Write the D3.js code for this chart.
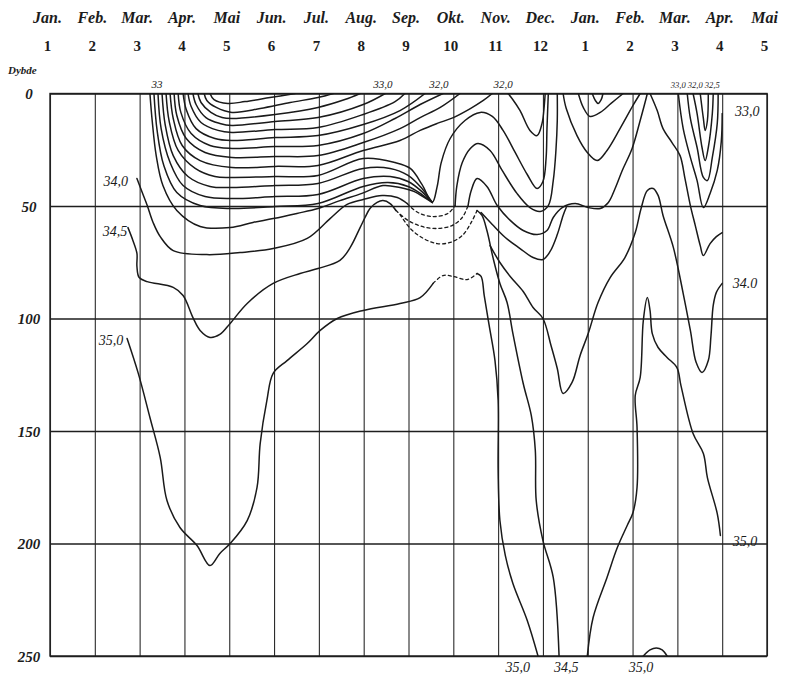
<!DOCTYPE html>
<html>
<head>
<meta charset="utf-8">
<script src="https://cdn.jsdelivr.net/npm/d3@7"></script>
<style>
  body { margin: 0; background: #fff; }
  svg { display: block; }
  text { font-family: "Liberation Serif", "DejaVu Serif", serif; font-style: italic; fill: #1c1c1c; }
</style>
</head>
<body>
<svg id="chart"></svg>
<script>
// months along the top (two years, Jan..Mai)
const monthNames = ["Jan.", "Feb.", "Mar.", "Apr.", "Mai", "Jun.", "Jul.", "Aug.", "Sep.", "Okt.", "Nov.", "Dec.", "Jan.", "Feb.", "Mar.", "Apr.", "Mai"]
const monthNumbers = ["1", "2", "3", "4", "5", "6", "7", "8", "9", "10", "11", "12", "1", "2", "3", "4", "5"]
const depthTicks = [0, 50, 100, 150, 200, 250]

// isohalines as [month index, depth m]
const fan0 = [[3.57,0],[3.66,2.7],[3.97,4.4],[4.35,3.6],[4.91,1.8],[5.47,0]]
const fan1 = [[3.44,0],[3.50,3.1],[3.71,6.2],[4.06,8.4],[4.69,6.7],[5.36,4],[5.98,1.8],[6.32,0]]
const fan2 = [[3.30,0],[3.37,4],[3.59,8.4],[3.84,10.7],[4.06,11.1],[5.02,9.3],[5.98,6.2],[6.58,2.7],[6.92,0]]
const fan3 = [[3.19,0],[3.26,4.9],[3.48,10.7],[3.79,13.3],[4.06,14.2],[5.02,12.4],[5.98,10.7],[6.99,4.9],[7.48,0]]
const fan4 = [[3.08,0],[3.15,5.8],[3.37,12.9],[3.75,16.4],[4.06,17.3],[5.02,16],[5.98,15.1],[6.99,9.3],[7.70,3.6],[7.92,0]]
const fan5 = [[2.97,0],[3.04,7.1],[3.26,15.6],[3.68,20],[4.06,20.9],[5.02,19.6],[5.98,18.7],[6.99,13.8],[7.81,7.6],[8.37,0]]
const fan6 = [[2.86,0],[2.92,8.4],[3.15,17.8],[3.57,23.1],[4.06,24.4],[5.02,23.6],[5.98,23.1],[6.99,17.8],[7.70,11.1],[8.26,4.9],[8.77,0]]
const fan7 = [[2.77,0],[2.83,9.8],[3.04,20],[3.46,26.2],[4.06,28.4],[5.02,28],[5.98,27.6],[6.99,21.8],[7.81,15.6],[8.26,10.7],[8.71,6.2],[9.15,0]]
const fan8 = [[2.68,0],[2.75,11.1],[2.95,23.1],[3.35,29.8],[4.06,32.9],[5.02,32.4],[5.98,32],[6.99,25.3],[7.81,20.9],[8.26,16.4],[8.64,13.3],[9.0,10.7],[9.38,6.7],[9.67,3.1],[9.87,0]]
const fan9 = [[2.59,0],[2.66,12.4],[2.86,25.3],[3.24,33.3],[3.68,36.9],[4.06,37.3],[5.02,36.9],[5.98,36.4],[6.99,28.9],[7.70,30.7],[8.04,33.3],[8.30,40.4],[8.53,48.4],
  [8.64,41.3],[8.73,30.7],[8.93,20],[9.26,12],[9.60,8.4],[9.87,10.2],[10.11,16.4],[10.38,26.2],[10.65,36],[10.87,42.2],[11.0,39.1],[11.07,28.9],[11.09,15.6],[11.12,0]]
const fan10 = [[2.50,0],[2.57,13.8],[2.75,27.6],[3.08,36.9],[3.57,41.3],[4.06,41.8],[5.02,40.9],[5.98,40],[6.99,33.3],[7.59,33.3],[7.99,36.4],[8.30,42.2],[8.53,48.4]]
const fan11 = [[2.41,0],[2.48,15.6],[2.68,30.7],[2.97,40.9],[3.46,45.8],[4.06,46.7],[5.02,45.8],[5.98,44.9],[6.99,37.8],[7.59,36.9],[7.99,39.1],[8.30,43.6],[8.53,48.4]]
const fan12 = [[2.32,0],[2.39,16.4],[2.54,32],[2.83,44],[3.35,49.8],[4.06,51.1],[5.02,50.2],[5.98,48.9],[6.99,41.3],[7.54,39.6],[7.99,41.3],[8.30,44.9],[8.53,48.4]]
const fan13 = [[2.23,0],[2.28,12],[2.37,27.6],[2.52,40.9],[2.83,52],[3.35,59.1],[4.02,59.6],[4.53,57.3],[4.98,55.6],[5.51,53.3],[5.98,51.1],[6.47,47.6],[6.96,44.4],[7.43,40.9],[7.81,41.8],[8.13,43.6],[8.35,46.2],[8.53,48.4]]

const iso340Left = [[1.94,37.8],[2.05,43.6],[2.17,49.8],[2.30,57.3],[2.46,63.6],[2.75,69.8],[3.50,71.6],[4.24,70.7],[4.98,68.9],[5.74,64.4],[6.25,55.6],[6.63,49.3],[6.99,47.1],[7.41,45.3],[7.75,46.2],[7.97,48.9]]
const arc1 = [[7.97,48.9],[8.21,52.9],[8.55,54.7],[8.88,53.3],[9.04,49.8]]
const peak2 = [[9.04,49.8],[9.08,40.9],[9.20,30.7],[9.38,24.4],[9.55,22.2],[9.82,25.3],[10.09,34.2],[10.42,44.4],[10.71,50.7],[10.94,52.4],[11.12,49.8],[11.23,38.7],[11.29,25.3],[11.32,12],[11.32,0]]

const iso345Left = [[1.74,59.6],[1.85,65.3],[1.94,71.1],[1.94,76.9],[1.99,81.8],[2.17,83.6],[2.75,86.2],[2.97,89.8],[3.19,99.6],[3.35,105.3],[3.57,108.4],[3.79,107.1],[4.02,102.2],[4.40,93.3],[4.98,84.4],[5.58,80],[5.98,77.8],[6.47,74.2],[6.70,68.4],[6.92,59.6],[7.03,55.1],[7.14,51.1],[7.30,48.4],[7.43,47.6],[7.59,48.9],[7.72,52]]
const arc2 = [[7.72,52],[7.99,56.4],[8.30,59.1],[8.64,60],[8.97,58.7],[9.20,55.1],[9.33,49.8]]
const peak3 = [[9.33,49.8],[9.40,43.1],[9.53,37.8],[9.75,41.3],[9.98,49.8],[10.27,56.4],[10.56,60.9],[10.87,62.7],[11.09,60.9],[11.23,55.1],[11.43,50.7],[11.72,48.9],[12.01,50.7],[12.28,51.1],[12.46,48.4],[12.61,42.2],[12.77,34.2],[12.99,24.4],[13.17,12],[13.29,3.1],[13.33,0]]
const arc3 = [[7.81,53.8],[8.04,60],[8.33,64.4],[8.64,66.7],[8.93,66.2],[9.20,63.1],[9.40,57.3],[9.53,52]]
const iso345Right = [[9.53,52],[9.64,54.2],[9.75,60.9],[9.89,73.3],[10.04,84.4],[10.20,92.9],[10.33,106.7],[10.56,128.9],[10.74,143.1],[10.83,158.7],[10.85,180.9],[11.0,198.7],[11.23,215.1],[11.36,250]]
const vee258 = [[9.62,52.9],[9.87,58.2],[10.16,64],[10.49,68.9],[10.78,72.9],[11.0,73.8],[11.16,70.2],[11.32,62.7],[11.45,54.2],[11.52,50.7]]
const iso340Right = [[9.82,67.6],[10.04,75.1],[10.27,81.3],[10.56,88],[10.78,95.1],[11.0,100],[11.18,112],[11.32,122.2],[11.45,133.3],[11.65,128.4],[11.83,116.4],[12.01,106.7],[12.23,92.9],[12.5,81.8],[12.83,72.9],[13.06,61.8],[13.19,51.1],[13.33,43.1],[13.46,42.2],[13.57,45.3],[13.68,54.2],[13.91,68.4],[14.13,88.9],[14.29,105.3],[14.42,119.6],[14.55,124],[14.69,118.7],[14.75,107.6],[14.80,94.2],[14.87,88.4],[15.0,84.4]]

const iso350Left = [[1.72,108.9],[1.97,124.4],[2.23,144],[2.46,161.8],[2.61,180.9],[2.90,192.9],[3.28,200.9],[3.57,209.8],[3.79,204.4],[4.02,200],[4.40,189.8],[4.62,175.1],[4.69,155.6],[4.84,136.4],[4.98,124.4],[5.29,118.7],[5.74,111.1],[6.03,105.3],[6.41,100],[6.99,96.4],[7.81,93.3],[8.26,90.7],[8.55,84.4]]
const arc350 = [[8.55,84.4],[8.77,80.9],[9.0,81.3],[9.31,82.7],[9.53,80]]
const iso350Mid = [[9.53,80],[9.62,81.3],[9.69,89.8],[9.80,103.1],[9.93,118.7],[10.0,136.4],[10.0,167.6],[10.04,189.8],[10.16,205.3],[10.33,217.8],[10.65,234.2],[10.89,250]]
const iso350Dome = [[11.99,250],[12.12,232.9],[12.43,215.1],[12.66,201.8],[12.88,192],[13.01,186.2],[13.10,175.1],[13.10,148.4],[13.06,134.2],[13.17,126.2],[13.24,100.9],[13.33,90.7],[13.39,96.4],[13.44,106.7],[13.57,112.9],[13.77,117.3],[13.99,121.8],[14.08,129.8],[14.35,151.1],[14.58,160],[14.67,170.7],[14.89,186.7],[14.96,196.4]]
const bottomBump = [[13.24,250],[13.39,247.3],[13.53,246.4],[13.66,247.3],[13.77,250]]

const topVee = [[10.22,0],[10.31,2.2],[10.49,7.6],[10.71,16.4],[10.87,18.7],[10.98,13.3],[11.03,5.3],[11.05,0]]
const vee158 = [[11.45,0],[11.52,6.7],[11.76,18.7],[11.99,26.2],[12.21,29.8],[12.43,25.3],[12.72,15.6],[13.01,5.3],[13.17,0]]
const cupJan = [[11.79,0],[11.90,6.2],[12.05,10.2],[12.28,8.4],[12.52,4.4],[12.79,0]]
const cupJanSmall = [[12.10,0],[12.17,3.1],[12.23,4.4],[12.30,2.7],[12.34,0]]
const vee255 = [[13.39,0],[13.55,7.6],[13.68,15.6],[13.88,21.8],[14.06,27.6],[14.17,37.8],[14.29,49.8],[14.40,58.7],[14.51,67.6],[14.58,72],[14.73,66.7],[14.87,63.6],[15.0,61.8]]
const vee207 = [[14.02,0],[14.13,15.6],[14.29,28.4],[14.44,38.7],[14.58,50.7],[14.73,44.4],[14.89,34.2],[14.98,21.3],[15.0,8.9]]
const cup180 = [[14.22,0],[14.29,11.1],[14.44,24],[14.58,37.3],[14.67,38.7],[14.78,28.4],[14.89,13.3],[14.91,0]]
const cup160 = [[14.35,0],[14.44,8.9],[14.55,24],[14.62,29.8],[14.69,24],[14.78,8.9],[14.80,0]]
const cup130 = [[14.51,0],[14.58,11.1],[14.62,16.4],[14.67,12],[14.69,0]]

const solidLines = [fan0, fan1, fan2, fan3, fan4, fan5, fan6, fan7, fan8, fan9, fan10, fan11, fan12, fan13,
  iso340Left, peak2, iso345Left, peak3, iso345Right, vee258, iso340Right,
  iso350Left, iso350Mid, iso350Dome, bottomBump,
  topVee, vee158, cupJan, cupJanSmall, vee255, vee207, cup180, cup160, cup130]
const dashedLines = [arc1, arc2, arc3, arc350]

// hand-written values beside the curves: [text, month, depth]
const sideLabels = [["34,0", 1.47, 41], ["34,5", 1.45, 63.3], ["35,0", 1.36, 111.8],
  ["33,0", 15.56, 10], ["34.0", 15.51, 86.4], ["35,0", 15.51, 201],
  ["35,0", 10.44, 257], ["34,5", 11.52, 257], ["35,0", 13.19, 257]]
const surfaceLabels = [["33", 2.39, -2.4], ["33,0", 7.43, -2.4], ["32,0", 8.68, -2.4], ["32,0", 10.11, -2.4]]
const surfaceSmall = [["33,0 32,0 32,5", 14.4, -2.4]]

const width = 798
const height = 675

const svg = d3.select("#chart").attr("width", width).attr("height", height)
svg.append("rect").attr("width", width).attr("height", height).attr("fill", "#fff")

const monthIdx = monthNames.map((_, i) => i)
const x = d3.scaleLinear().domain([0, 16]).range([50, 767])
const y = d3.scaleLinear().domain([0, 250]).range([93.5, 656])

// grid
svg.append("g")
    .attr("transform", `translate(0,${y(0)})`)
    .call(d3.axisTop(x).tickValues(monthIdx).tickSize(-(y(250) - y(0))).tickFormat(""))
    .call(g => g.select(".domain").remove())
    .selectAll("line").attr("stroke", "#2a2a2a").attr("stroke-width", 1.1)

svg.append("g")
    .attr("transform", `translate(${x(0)},0)`)
    .call(d3.axisLeft(y).tickValues(depthTicks).tickSize(-(x(16) - x(0))).tickFormat(""))
    .call(g => g.select(".domain").remove())
    .selectAll("line").attr("stroke", "#1e1e1e").attr("stroke-width", 1.4)

svg.append("rect")
    .attr("x", x(0)).attr("y", y(0))
    .attr("width", x(16) - x(0)).attr("height", y(250) - y(0))
    .attr("fill", "none").attr("stroke", "#1e1e1e").attr("stroke-width", 1.4)

// month labels
const monthAxis = svg.append("g")
    .attr("transform", "translate(0,23)")
    .call(d3.axisTop(x).tickValues(monthIdx).tickSize(0).tickPadding(0).tickFormat(i => monthNames[i]))
monthAxis.select(".domain").remove()
monthAxis.selectAll("text")
    .attr("font-family", null).attr("font-size", 16).attr("dx", -3).attr("font-weight", "bold")

const numberAxis = svg.append("g")
    .attr("transform", "translate(0,51)")
    .call(d3.axisTop(x).tickValues(monthIdx).tickSize(0).tickPadding(0).tickFormat(i => monthNumbers[i]))
numberAxis.select(".domain").remove()
numberAxis.selectAll("text")
    .attr("font-family", null).attr("font-size", 15).attr("dx", -3).attr("font-weight", "bold")
    .style("font-style", "normal")

// depth labels
const depthAxis = svg.append("g")
    .attr("transform", `translate(${x(0)},0)`)
    .call(d3.axisLeft(y).tickValues(depthTicks).tickSize(0).tickPadding(0))
depthAxis.select(".domain").remove()
depthAxis.selectAll("text")
    .attr("font-family", null).attr("font-size", 15).attr("font-weight", "bold")
    .attr("text-anchor", "middle").attr("x", -21).attr("dy", "0.35em")

svg.append("text").attr("x", 8).attr("y", 74)
    .attr("font-size", 11).attr("font-weight", "bold").text("Dybde")

// isohalines
const clip = svg.append("clipPath").attr("id", "plot-clip")
clip.append("rect").attr("x", x(0)).attr("y", y(0))
    .attr("width", x(16) - x(0)).attr("height", y(250) - y(0))

const line = d3.line()
    .x(d => x(d[0]))
    .y(d => y(d[1]))
    .curve(d3.curveCatmullRom.alpha(0.5))

const lines = svg.append("g").attr("clip-path", "url(#plot-clip)")
    .attr("fill", "none").attr("stroke", "#1a1a1a").attr("stroke-linejoin", "round").attr("stroke-linecap", "round")

lines.selectAll("path.solid")
    .data(solidLines)
    .join("path")
    .attr("class", "solid")
    .attr("d", line)
    .attr("stroke-width", 1.5)

lines.selectAll("path.dashed")
    .data(dashedLines)
    .join("path")
    .attr("class", "dashed")
    .attr("d", line)
    .attr("stroke-width", 1.3)
    .attr("stroke-dasharray", "3,3")

// labels on the curves
svg.append("g").selectAll("text")
    .data(sideLabels)
    .join("text")
    .attr("x", d => x(d[1]))
    .attr("y", d => y(d[2]))
    .attr("text-anchor", "middle")
    .attr("font-size", 14)
    .text(d => d[0])

svg.append("g").selectAll("text")
    .data(surfaceLabels)
    .join("text")
    .attr("x", d => x(d[1]))
    .attr("y", d => y(d[2]))
    .attr("text-anchor", "middle")
    .attr("font-size", 11)
    .text(d => d[0])

svg.append("g").selectAll("text")
    .data(surfaceSmall)
    .join("text")
    .attr("x", d => x(d[1]))
    .attr("y", d => y(d[2]))
    .attr("text-anchor", "middle")
    .attr("font-size", 8.5)
    .text(d => d[0])
</script>
</body>
</html>
